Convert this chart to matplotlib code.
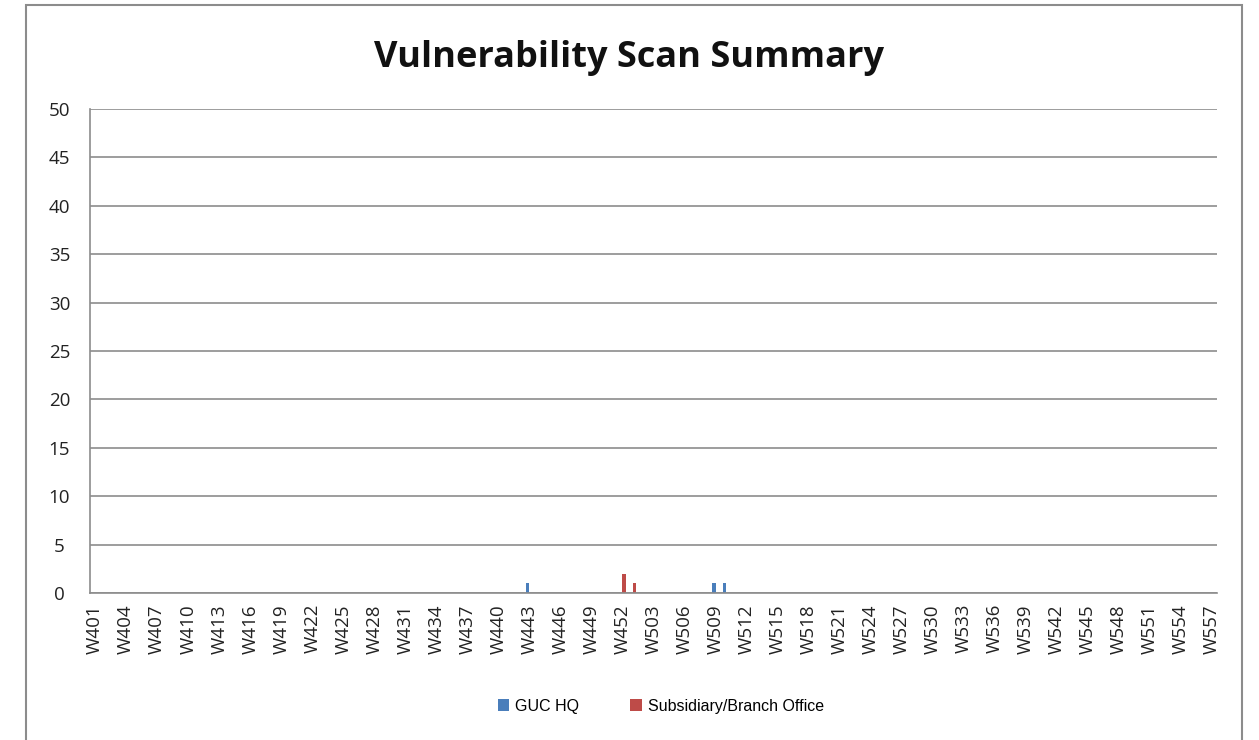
import numpy as np
import matplotlib.pyplot as plt
from matplotlib.patches import Rectangle

# categories: W401..W452 then W501..W557
categories = [f'W{n}' for n in range(401, 453)] + [f'W{n}' for n in range(501, 558)]

guc_hq = {'W443': 1, 'W509': 1, 'W510': 1}
subsidiary = {'W452': 2, 'W501': 1}

hq_vals = np.array([guc_hq.get(c, 0) for c in categories])
sub_vals = np.array([subsidiary.get(c, 0) for c in categories])

fig = plt.figure(figsize=(12.59, 7.40), dpi=100)
fig.patches.append(Rectangle((26 / 1259, -0.01), (1242 - 26) / 1259, 1 - 5 / 740 + 0.01,
                             transform=fig.transFigure, fill=False,
                             edgecolor='#8c8c8c', linewidth=1.5))

ax = fig.add_axes([90 / 1259, 1 - 593 / 740, (1217 - 90) / 1259, (593 - 109) / 740])

x = np.arange(len(categories))
w = 0.3
ax.bar(x - w / 2, hq_vals, width=w, color='#4a7ebb', label='GUC HQ')
ax.bar(x + w / 2, sub_vals, width=w, color='#be4b48', label='Subsidiary/Branch Office')

ax.set_xlim(-0.5, len(categories) - 0.5)
ax.set_ylim(0, 50)
ax.set_yticks(range(0, 51, 5))
ax.yaxis.grid(True, color='#8c8c8c', linewidth=1.2)
ax.set_axisbelow(True)
ax.set_xticks(x[::3])
ax.set_xticklabels(categories[::3], rotation=90, fontsize=13.5, family='Open Sans',
                   color='#222222')
for lab in ax.get_yticklabels():
    lab.set_family('Open Sans')
    lab.set_fontsize(13.5)
    lab.set_color('#222222')
    lab.set_horizontalalignment('center')
ax.tick_params(length=0, pad=8)
ax.tick_params(axis='y', pad=22)
for s in ['top', 'right']:
    ax.spines[s].set_visible(False)
for s in ['left', 'bottom']:
    ax.spines[s].set_color('#8c8c8c')
    ax.spines[s].set_linewidth(1.2)

fig.text(0.5, 1 - 58 / 740, 'Vulnerability Scan Summary', ha='center', va='center',
         fontsize=26, fontweight='bold', family='Open Sans', color='#111111')

ax.legend(loc='center', bbox_to_anchor=(0.525, (1 - 706 / 740)), bbox_transform=fig.transFigure,
          ncol=2, frameon=False, handlelength=0.7, handleheight=0.7, columnspacing=3.2,
          handletextpad=0.4, prop={'family': 'Liberation Sans', 'size': 11.5})

fig.savefig('out.png', dpi=100, facecolor='white')
